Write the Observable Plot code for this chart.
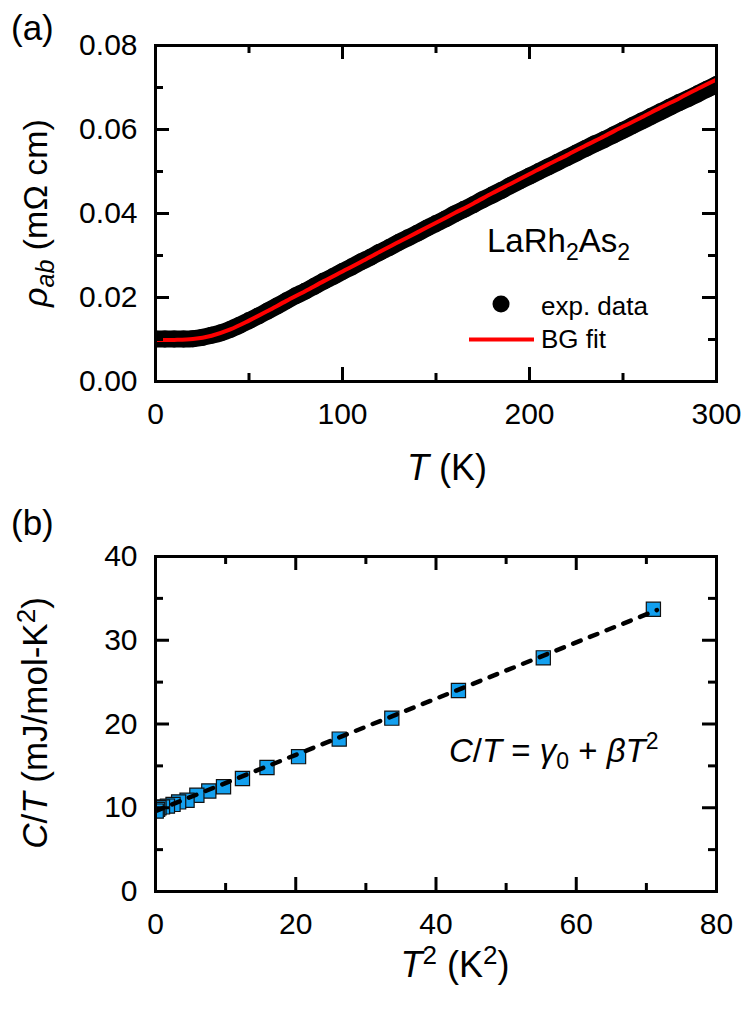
<!DOCTYPE html>
<html><head><meta charset="utf-8">
<script src="https://cdn.jsdelivr.net/npm/d3@7"></script>
<script src="https://cdn.jsdelivr.net/npm/@observablehq/plot@0.6"></script>
<style>
body{margin:0;background:#fff;}
#chart{width:747px;}
svg{display:block;}
</style></head><body><div id="chart"></div>
<script>
// ---- Panel (a): resistivity ----
const tempT = [0,5,10,15,20,25,30,35,40,45,50,55,60,65,70,75,80,85,90,95,100,105,110,115,120,125,130,135,140,145,150,155,160,165,170,175,180,185,190,195,200,205,210,215,220,225,230,235,240,245,250,255,260,265,270,275,280,285,290,295,300];
const rhoExp = [0.0101,0.0101,0.0101,0.0101,0.0102,0.0105,0.0110,0.0116,0.0124,0.0134,0.0145,0.0156,0.0168,0.0180,0.0192,0.0204,0.0215,0.0227,0.0239,0.0250,0.0262,0.0273,0.0285,0.0296,0.0308,0.0319,0.0331,0.0342,0.0353,0.0365,0.0376,0.0387,0.0399,0.0410,0.0421,0.0433,0.0444,0.0455,0.0467,0.0478,0.0489,0.0500,0.0511,0.0522,0.0533,0.0544,0.0555,0.0566,0.0576,0.0587,0.0598,0.0609,0.0620,0.0631,0.0642,0.0653,0.0664,0.0674,0.0685,0.0696,0.0707];
const fitT = [0,10,20,30,40,50,60,70,80,90,100,110,120,130,140,150,160,170,180,190,200,210,220,230,240,250,260,270,280,290,300];
const rhoFit = [0.0099,0.0099,0.0101,0.0109,0.0124,0.0145,0.0168,0.0192,0.0215,0.0239,0.0262,0.0285,0.0309,0.0332,0.0355,0.0378,0.0401,0.0424,0.0448,0.0471,0.0494,0.0517,0.0539,0.0562,0.0584,0.0607,0.0629,0.0652,0.0674,0.0697,0.0719];
const xMajorA = [0,100,200,300];
const xMinorA = [50,150,250];
const yMajorA = [0,0.02,0.04,0.06,0.08];
const yMinorA = [0.01,0.03,0.05,0.07];

// ---- Panel (b): specific heat ----
const tSquared = [71.0,55.3,43.2,33.7,26.2,20.4,15.9,12.4,9.7,7.6,5.9,4.5,3.3,2.5,1.7,1.0,0.5,0.3,0.1];
const cOverT   = [33.7,27.9,24.0,20.7,18.2,16.1,14.8,13.5,12.5,12.0,11.5,10.9,10.7,10.4,10.2,10.1,10.0,9.8,9.6];
const fitT2 = [0,71.5];
const fitC  = [9.6,33.6];
const xMajorB = [0,20,40,60,80];
const xMinorB = [10,30,50,70];
const yMajorB = [0,10,20,30,40];
const yMinorB = [5,15,25,35];

const FONT = "'Liberation Sans', Arial, Helvetica, sans-serif";
const W = 747;

function frameTicks(pw, ph, xMaj, xMin, yMaj, yMin) {
  const big = 14, small = 8, sw = 3;
  return [
    Plot.ruleX(xMaj, {insetTop: ph - big, strokeWidth: sw}),
    Plot.ruleX(xMaj, {insetBottom: ph - big, strokeWidth: sw}),
    Plot.ruleX(xMin, {insetTop: ph - small, strokeWidth: sw}),
    Plot.ruleX(xMin, {insetBottom: ph - small, strokeWidth: sw}),
    Plot.ruleY(yMaj, {insetRight: pw - big, strokeWidth: sw}),
    Plot.ruleY(yMaj, {insetLeft: pw - big, strokeWidth: sw}),
    Plot.ruleY(yMin, {insetRight: pw - small, strokeWidth: sw}),
    Plot.ruleY(yMin, {insetLeft: pw - small, strokeWidth: sw})
  ];
}

// Panel A
const mA = {l: 155, r: 31, t: 45, b: 119}, hA = 500;
const pwA = W - mA.l - mA.r, phA = hA - mA.t - mA.b;
const expData = tempT.map((t, i) => ({T: t, rho: rhoExp[i]}));
const fitData = fitT.map((t, i) => ({T: t, rho: rhoFit[i]}));

const plotA = Plot.plot({
  width: W, height: hA,
  marginLeft: mA.l, marginRight: mA.r, marginTop: mA.t, marginBottom: mA.b,
  style: {fontFamily: FONT, fontSize: "30px", background: "white", color: "black"},
  x: {domain: [0, 300]},
  y: {domain: [0, 0.08]},
  marks: [
    Plot.line(expData, {x: "T", y: "rho", stroke: "black", strokeWidth: 17, curve: "catmull-rom", clip: true}),
    Plot.dot(expData, {x: "T", y: "rho", r: 8.5, fill: "black", stroke: "none", clip: true}),
    Plot.line(fitData, {x: "T", y: "rho", stroke: "#ff0000", strokeWidth: 4, curve: "catmull-rom", clip: true}),
    ...frameTicks(pwA, phA, xMajorA, xMinorA, yMajorA, yMinorA),
    Plot.axisX(xMajorA, {anchor: "bottom", tickSize: 0, tickPadding: 21, label: null, tickFormat: d => String(d)}),
    Plot.axisY(yMajorA, {anchor: "left", tickSize: 0, tickPadding: 18, label: null, tickFormat: d => d.toFixed(2)}),
    Plot.frame({stroke: "black", strokeWidth: 3})
  ]
});

// Panel B
const mB = {l: 155, r: 31, t: 56, b: 125}, hB = 516;
const pwB = W - mB.l - mB.r, phB = hB - mB.t - mB.b;
const cData = tSquared.map((x, i) => ({x, y: cOverT[i]}));
const lineData = fitT2.map((x, i) => ({x, y: fitC[i]}));

const plotB = Plot.plot({
  width: W, height: hB,
  marginLeft: mB.l, marginRight: mB.r, marginTop: mB.t, marginBottom: mB.b,
  style: {fontFamily: FONT, fontSize: "30px", background: "white", color: "black"},
  x: {domain: [0, 80]},
  y: {domain: [0, 40]},
  marks: [
    Plot.dot(cData, {x: "x", y: "y", symbol: "square", r: 8, fill: "#13a0ef", stroke: "#111", strokeWidth: 1.2, clip: true}),
    Plot.line(lineData, {x: "x", y: "y", stroke: "black", strokeWidth: 4.5, strokeDasharray: "8,10", strokeLinecap: "round", clip: true}),
    ...frameTicks(pwB, phB, xMajorB, xMinorB, yMajorB, yMinorB),
    Plot.axisX(xMajorB, {anchor: "bottom", tickSize: 0, tickPadding: 21, label: null, tickFormat: d => String(d)}),
    Plot.axisY(yMajorB, {anchor: "left", tickSize: 0, tickPadding: 18, label: null, tickFormat: d => String(d)}),
    Plot.frame({stroke: "black", strokeWidth: 3})
  ]
});

const chart = document.getElementById("chart");
chart.appendChild(plotA);
chart.appendChild(plotB);

// ---- annotations (text) ----
function addText(svg, attrs, parts) {
  const t = d3.select(svg).append("text").attr("font-family", FONT).attr("fill", "black")
    .attr("text-anchor", "start");
  for (const [k, v] of Object.entries(attrs)) t.attr(k, v);
  for (const p of parts) {
    const s = t.append("tspan").text(p.text);
    if (p.italic) s.attr("font-style", "italic");
    if (p.size) s.attr("font-size", p.size);
    if (p.dy) s.attr("dy", p.dy);
  }
  return t;
}
const sA = plotA, sB = plotB;

addText(sA, {x: 11, y: 40, "font-size": 35}, [{text: "(a)"}]);
addText(sA, {transform: "translate(47,213) rotate(-90)", "text-anchor": "middle", "font-size": 34}, [
  {text: "ρ", italic: true}, {text: "ab", italic: true, size: 25, dy: 7}, {text: " (mΩ cm)", dy: -7}
]);
addText(sA, {x: 447, y: 480, "text-anchor": "middle", "font-size": 36}, [
  {text: "T", italic: true}, {text: " (K)"}
]);
addText(sA, {x: 487, y: 252, "font-size": 33}, [
  {text: "LaRh"}, {text: "2", size: 23, dy: 8}, {text: "As", dy: -8}, {text: "2", size: 23, dy: 8}
]);
// legend
d3.select(sA).append("circle").attr("cx", 501).attr("cy", 304).attr("r", 8.5).attr("fill", "black");
addText(sA, {x: 541, y: 315, "font-size": 26}, [{text: "exp. data"}]);
d3.select(sA).append("line").attr("x1", 469).attr("x2", 534).attr("y1", 339.5).attr("y2", 339.5)
  .attr("stroke", "#ff0000").attr("stroke-width", 4);
addText(sA, {x: 541, y: 348, "font-size": 26}, [{text: "BG fit"}]);

addText(sB, {x: 11, y: 35, "font-size": 35}, [{text: "(b)"}]);
addText(sB, {transform: "translate(47,223) rotate(-90)", "text-anchor": "middle", "font-size": 35}, [
  {text: "C", italic: true}, {text: "/"}, {text: "T", italic: true}, {text: " (mJ/mol-K"},
  {text: "2", size: 26, dy: -12}, {text: ")", dy: 12}
]);
addText(sB, {x: 455, y: 477, "text-anchor": "middle", "font-size": 36}, [
  {text: "T", italic: true}, {text: "2", size: 26, dy: -13}, {text: " (K", dy: 13},
  {text: "2", size: 26, dy: -13}, {text: ")", dy: 13}
]);
addText(sB, {x: 449, y: 262, "font-size": 33}, [
  {text: "C", italic: true}, {text: "/"}, {text: "T", italic: true}, {text: " = "},
  {text: "γ", italic: true}, {text: "0", size: 23, dy: 7}, {text: " + ", dy: -7},
  {text: "β", italic: true}, {text: "T", italic: true}, {text: "2", size: 23, dy: -13}
]);
</script></body></html>
